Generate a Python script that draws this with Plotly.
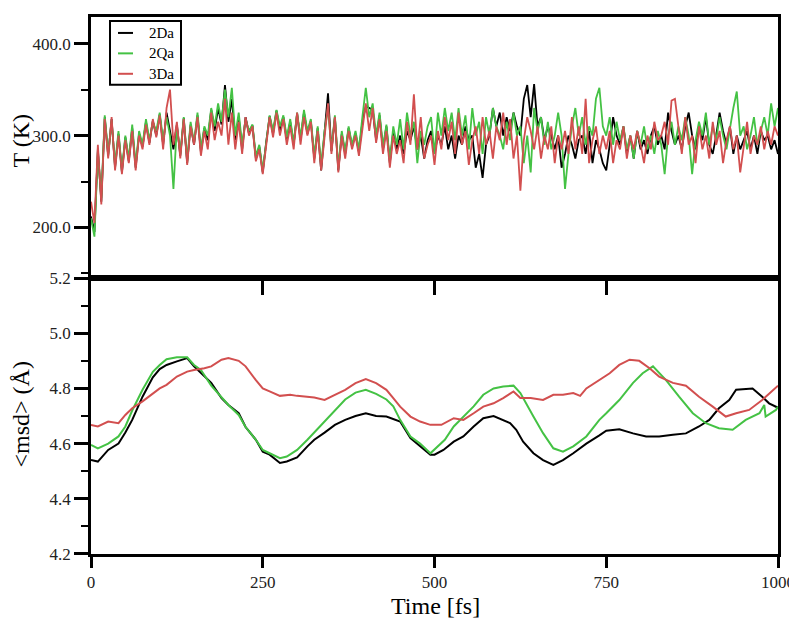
import plotly.graph_objects as go
from plotly.subplots import make_subplots

# ---- data -------------------------------------------------------------
series_names = ['2Da', '2Qa', '3Da']
series_colors = ['#000000', '#44c244', '#d24f4f']

# temperature, one value every 5 fs from 0 to 1000 fs
time_T = list(range(0, 1001, 5))

temp_2Da = [212, 195, 285, 228, 320, 278, 318, 265, 302, 260, 298, 272, 308, 265, 302, 288, 315, 292, 316, 300,
            323, 290, 325, 305, 285, 312, 278, 319, 270, 312, 290, 322, 282, 308, 295, 328, 305, 330, 312, 355,
            315, 340, 295, 320, 285, 320, 302, 311, 275, 288, 260, 293, 321, 302, 327, 305, 320, 295, 315, 290,
            324, 295, 325, 302, 316, 275, 308, 262, 302, 346, 283, 320, 262, 302, 280, 308, 288, 302, 282, 315,
            332, 330, 328, 295, 322, 285, 310, 270, 305, 285, 300, 280, 305, 295, 310, 285, 300, 275, 295, 305,
            280, 300, 290, 310, 285, 300, 275, 300, 290, 310, 295, 300, 265, 280, 254, 290, 300, 330, 310, 325,
            300, 320, 305, 325, 310, 300, 340, 355, 320, 356, 310, 320, 295, 310, 300, 285, 300, 265, 280, 300,
            290, 275, 295, 300, 280, 305, 270, 295, 285, 270, 262, 290, 320, 300, 290, 310, 280, 300, 275, 305,
            285, 295, 280, 300, 310, 290, 300, 285, 325, 305, 290, 300, 285, 310, 325, 300, 285, 310, 295, 320,
            290, 280, 300, 325, 305, 290, 310, 280, 300, 285, 295, 305, 285, 300, 280, 305, 295, 300, 285, 295,
            280]

temp_2Qa = [210, 190, 282, 232, 322, 280, 316, 268, 305, 262, 300, 275, 312, 268, 305, 290, 318, 295, 315, 305,
            325, 295, 320, 300, 242, 310, 280, 320, 272, 315, 292, 325, 285, 310, 300, 330, 310, 335, 315, 350,
            320, 352, 300, 325, 290, 318, 305, 312, 278, 290, 262, 295, 322, 305, 328, 310, 322, 298, 318, 292,
            325, 298, 328, 305, 318, 278, 310, 268, 305, 330, 285, 322, 265, 305, 282, 310, 290, 305, 285, 320,
            352, 320, 335, 300, 325, 288, 312, 272, 310, 290, 318, 285, 325, 300, 315, 270, 305, 290, 310, 320,
            280, 325, 300, 330, 305, 325, 295, 330, 300, 322, 285, 330, 300, 315, 280, 320, 300, 330, 310, 300,
            285, 315, 295, 325, 300, 310, 270, 300, 260, 330, 305, 320, 290, 315, 285, 300, 325, 300, 242, 280,
            310, 330, 300, 320, 290, 310, 300, 340, 352, 310, 300, 320, 290, 315, 295, 310, 285, 300, 275, 305,
            290, 310, 285, 300, 280, 305, 290, 258, 300, 315, 290, 310, 295, 320, 300, 258, 295, 315, 300, 325,
            290, 310, 295, 320, 300, 285, 310, 330, 348, 300, 310, 285, 300, 320, 290, 305, 320, 300, 335, 310,
            330]

temp_3Da = [228, 205, 290, 225, 318, 275, 320, 262, 300, 258, 295, 270, 305, 262, 300, 285, 312, 290, 318, 298,
            322, 285, 330, 350, 290, 315, 275, 318, 268, 310, 290, 320, 278, 305, 285, 325, 295, 315, 300, 340,
            290, 325, 285, 315, 280, 320, 300, 310, 272, 285, 258, 292, 320, 298, 325, 300, 318, 290, 310, 285,
            325, 290, 320, 300, 315, 270, 305, 262, 300, 335, 280, 320, 260, 300, 275, 305, 285, 300, 278, 310,
            335, 305, 330, 292, 318, 280, 305, 265, 300, 280, 295, 270, 315, 290, 345, 285, 320, 275, 290, 300,
            268, 305, 285, 320, 295, 315, 280, 325, 290, 305, 268, 295, 310, 280, 320, 290, 305, 275, 310, 295,
            325, 290, 318, 275, 300, 240, 295, 320, 305, 285, 310, 275, 300, 285, 310, 270, 300, 285, 305, 280,
            320, 285, 310, 280, 340, 270, 295, 310, 280, 300, 285, 305, 270, 295, 285, 310, 275, 300, 285, 305,
            290, 270, 300, 285, 315, 295, 300, 315, 290, 338, 340, 310, 280, 320, 290, 300, 270, 310, 285, 300,
            275, 315, 290, 305, 270, 295, 310, 285, 300, 260, 290, 315, 280, 300, 290, 310, 285, 305, 290, 310,
            300]

# mean square displacement
time_msd_2Da = [0, 10, 25, 40, 50, 60, 75, 90, 100, 110,
                125, 140, 150, 160, 175, 190, 200, 215, 225, 240,
                250, 260, 275, 285, 300, 315, 325, 340, 355, 370,
                385, 400, 415, 430, 440, 450, 465, 479, 494, 500,
                513, 528, 542, 557, 571, 586, 595, 610, 619, 629,
                644, 658, 673, 687, 702, 721, 740, 750, 769, 789,
                808, 827, 847, 866, 885, 900, 914, 929, 939, 963,
                977, 987, 1000]
msd_2Da = [4.541, 4.535, 4.577, 4.600, 4.640, 4.686, 4.770, 4.840, 4.870, 4.885,
           4.898, 4.910, 4.880, 4.855, 4.820, 4.765, 4.740, 4.710, 4.660, 4.614,
           4.571, 4.560, 4.530, 4.535, 4.550, 4.590, 4.614, 4.640, 4.668, 4.686,
           4.700, 4.710, 4.700, 4.698, 4.690, 4.680, 4.620, 4.590, 4.560, 4.560,
           4.577, 4.607, 4.626, 4.662, 4.692, 4.700, 4.690, 4.674, 4.650, 4.607,
           4.565, 4.540, 4.523, 4.540, 4.565, 4.600, 4.630, 4.647, 4.652, 4.637,
           4.626, 4.626, 4.632, 4.637, 4.662, 4.686, 4.728, 4.758, 4.795, 4.800,
           4.770, 4.746, 4.730]

time_msd_2Qa = [0, 10, 25, 40, 50, 60, 75, 90, 100, 110,
                125, 140, 150, 160, 175, 190, 200, 215, 225, 240,
                250, 260, 275, 285, 300, 315, 325, 340, 355, 370,
                385, 400, 415, 430, 440, 450, 465, 479, 494, 505,
                515, 528, 542, 557, 571, 586, 600, 615, 625, 634,
                644, 658, 673, 687, 702, 721, 740, 750, 769, 789,
                803, 818, 827, 837, 856, 876, 895, 914, 934, 953,
                973, 980, 982, 997, 1000]
msd_2Qa = [4.595, 4.583, 4.600, 4.626, 4.662, 4.720, 4.795, 4.860, 4.885, 4.906,
           4.913, 4.913, 4.885, 4.867, 4.810, 4.770, 4.740, 4.704, 4.660, 4.614,
           4.577, 4.565, 4.547, 4.553, 4.577, 4.614, 4.640, 4.680, 4.720, 4.760,
           4.785, 4.795, 4.780, 4.760, 4.735, 4.686, 4.626, 4.600, 4.565, 4.590,
           4.614, 4.662, 4.698, 4.735, 4.777, 4.800, 4.807, 4.810, 4.783, 4.740,
           4.698, 4.638, 4.583, 4.571, 4.590, 4.626, 4.686, 4.710, 4.758, 4.820,
           4.855, 4.880, 4.855, 4.830, 4.770, 4.710, 4.674, 4.656, 4.650, 4.686,
           4.710, 4.740, 4.698, 4.722, 4.734]

time_msd_3Da = [0, 10, 25, 40, 50, 60, 75, 90, 100, 110,
                125, 140, 150, 165, 175, 190, 200, 215, 225, 240,
                250, 260, 275, 290, 300, 325, 340, 355, 370, 385,
                400, 415, 430, 440, 450, 465, 479, 494, 510, 528,
                542, 557, 571, 586, 600, 615, 625, 640, 658, 673,
                687, 702, 712, 721, 740, 755, 769, 784, 798, 813,
                827, 847, 866, 885, 905, 924, 939, 958, 977, 1000]
msd_3Da = [4.668, 4.662, 4.680, 4.674, 4.704, 4.728, 4.753, 4.783, 4.800, 4.813,
           4.843, 4.861, 4.867, 4.873, 4.880, 4.904, 4.910, 4.900, 4.880, 4.830,
           4.800, 4.789, 4.773, 4.777, 4.773, 4.767, 4.758, 4.777, 4.795, 4.819,
           4.834, 4.819, 4.795, 4.765, 4.734, 4.698, 4.680, 4.668, 4.668, 4.692,
           4.686, 4.710, 4.734, 4.746, 4.765, 4.789, 4.765, 4.765, 4.758, 4.777,
           4.777, 4.783, 4.773, 4.800, 4.830, 4.855, 4.885, 4.904, 4.900, 4.873,
           4.843, 4.820, 4.810, 4.770, 4.734, 4.698, 4.710, 4.722, 4.758, 4.810]

temps = [temp_2Da, temp_2Qa, temp_3Da]
msd_times = [time_msd_2Da, time_msd_2Qa, time_msd_3Da]
msds = [msd_2Da, msd_2Qa, msd_3Da]

# ---- figure -----------------------------------------------------------
# the page adds an 8px offset; margins are shifted to compensate
W, H = 797, 621
OFF = 8
L, R, T, B = 83, 27, 0, 75
FONT = 'Liberation Serif, Times New Roman, serif'
# plot area as it ends up on screen
TOP_PX, BOT_PX = 15, 554


def px_x(x):
    # screen x pixel -> paper coordinate
    return (x - OFF - L) / (W - L - R)


def px_y(y):
    # screen y pixel -> paper coordinate
    return (BOT_PX - y) / (BOT_PX - TOP_PX)


fig = make_subplots(rows=2, cols=1, vertical_spacing=0)

for name, color, temp in zip(series_names, series_colors, temps):
    fig.add_trace(go.Scatter(x=time_T, y=temp, mode='lines', name=name,
                             line=dict(color=color, width=1.8), showlegend=False), row=1, col=1)

for name, color, t, m in zip(series_names, series_colors, msd_times, msds):
    fig.add_trace(go.Scatter(x=t, y=m, mode='lines', name=name,
                             line=dict(color=color, width=2), showlegend=False), row=2, col=1)

split = px_y(277)
axis_common = dict(showline=True, linecolor='black', linewidth=2.5, mirror=True,
                   showgrid=False, zeroline=False, tickcolor='black', tickwidth=2.5,
                   tickfont=dict(family=FONT, size=17, color='#222222'))

fig.update_layout(
    width=W, height=H,
    margin=dict(l=L, r=R, t=T, b=B),
    plot_bgcolor='white', paper_bgcolor='white',
    font=dict(family=FONT, color='black'),
    showlegend=False,
    xaxis=dict(domain=[0, 1], range=[0, 1000], ticks='outside', ticklen=14,
               tickvals=[250, 500, 750], showticklabels=False, **axis_common),
    yaxis=dict(domain=[split, 1], range=[145, 429], ticks='outside', ticklen=14,
               tick0=0, dtick=100, tickformat='.1f',
               minor=dict(ticks='outside', ticklen=7, tick0=0, dtick=50, tickwidth=2, tickcolor='black'),
               **axis_common),
    xaxis2=dict(domain=[0, 1], range=[0, 1000], ticks='outside', ticklen=11,
                tick0=0, dtick=250, **axis_common),
    yaxis2=dict(domain=[0, split], range=[4.2, 5.2], ticks='outside', ticklen=14,
                tick0=0, dtick=0.2, tickformat='.1f',
                minor=dict(ticks='outside', ticklen=7, tick0=0, dtick=0.1, tickwidth=2, tickcolor='black'),
                **axis_common),
)

# axis titles
title_font = dict(family=FONT, size=24, color='black')
fig.add_annotation(text='T (K)', xref='paper', yref='paper', x=px_x(21), y=px_y(139),
                   xanchor='center', yanchor='middle', textangle=-90, showarrow=False, font=title_font)
fig.add_annotation(text='&lt;msd&gt; (Å)', xref='paper', yref='paper', x=px_x(21), y=px_y(414),
                   xanchor='center', yanchor='middle', textangle=-90, showarrow=False, font=title_font)
fig.add_annotation(text='Time [fs]', xref='paper', yref='paper', x=px_x(435), y=px_y(606),
                   xanchor='center', yanchor='middle', showarrow=False, font=title_font)

# legend box drawn by hand
fig.add_shape(type='rect', xref='paper', yref='paper', x0=px_x(110), x1=px_x(181),
              y0=px_y(83), y1=px_y(19), line=dict(color='black', width=2), fillcolor='white')
for i, (name, color) in enumerate(zip(series_names, series_colors)):
    yy = px_y(31 + i * 20.5)
    fig.add_shape(type='line', xref='paper', yref='paper', x0=px_x(118), x1=px_x(133),
                  y0=yy, y1=yy, line=dict(color=color, width=2))
    fig.add_annotation(text=name, xref='paper', yref='paper', x=px_x(147), y=yy,
                       xanchor='left', yanchor='middle', showarrow=False,
                       font=dict(family=FONT, size=15, color='black'))

fig.write_html('out.html')
